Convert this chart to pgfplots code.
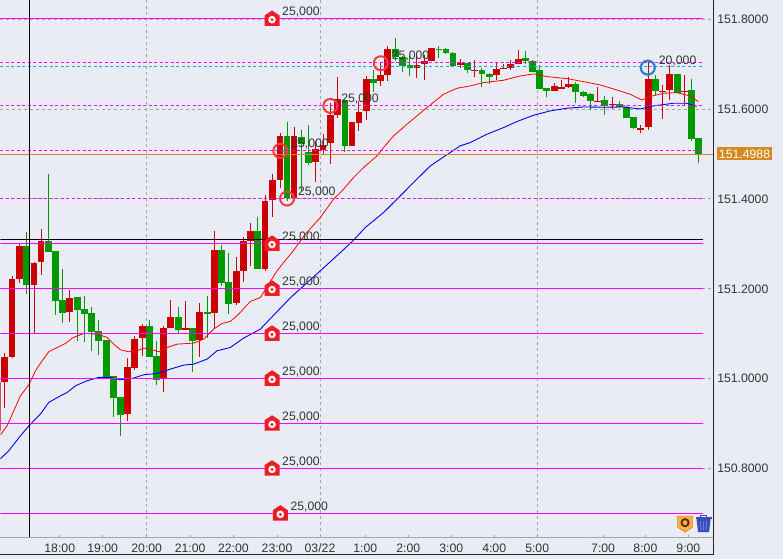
\documentclass[border=0pt]{standalone}
\usepackage{fontspec}
\setmainfont{Liberation Sans}
\usepackage{pgfplots}
\usepackage{pgfplotstable}
\pgfplotsset{compat=1.18}
\definecolor{bg}{HTML}{E9ECF4}
\definecolor{upc}{HTML}{CC0000}
\definecolor{dnc}{HTML}{009900}
\definecolor{gridc}{HTML}{A6A6A6}
\definecolor{mag}{HTML}{FF00FF}
\definecolor{fxred}{HTML}{EE1C25}
\definecolor{ringr}{HTML}{F53C46}
\definecolor{ringb}{HTML}{2F80D0}
\definecolor{tagc}{HTML}{D68A20}
\definecolor{txt}{HTML}{333333}
\definecolor{trash}{HTML}{3B4CB8}
\newcommand{\chartfont}{\fontsize{12.3}{14}\selectfont}
\pgfdeclareplotmark{fxhouse}{%
  \pgfsetfillcolor{fxred}%
  \pgfpathmoveto{\pgfpoint{-7.5bp}{-7bp}}%
  \pgfpathlineto{\pgfpoint{-7.5bp}{3.5bp}}%
  \pgfpathlineto{\pgfpoint{0bp}{8.5bp}}%
  \pgfpathlineto{\pgfpoint{7.5bp}{3.5bp}}%
  \pgfpathlineto{\pgfpoint{7.5bp}{-7bp}}%
  \pgfpathclose\pgfusepathqfill
  \pgfsetfillcolor{white}%
  \pgfpathcircle{\pgfpoint{0bp}{-0.7bp}}{3.8bp}\pgfusepathqfill
  \pgfsetfillcolor{fxred}%
  \pgfpathcircle{\pgfpoint{0bp}{-0.7bp}}{1.6bp}\pgfusepathqfill
}
% x (pixel position of the candle on the time axis), open, high, low, close
\pgfplotstableread{
x o h l c
-3 150.8844 150.9941 150.8844 150.9941
4.3 150.9941 151.0585 150.9363 151.0489
11.6 151.0489 151.2289 151.0452 151.2222
19.4 151.2222 151.3022 151.2133 151.2956
33.6 151.2111 151.26 151.1015 151.26
40.6 151.26 151.3333 151.2311 151.3074
69.3 151.1489 151.1978 151.1267 151.1822
127.3 150.9222 151.0467 150.9067 151.0267
134.3 151.0267 151.0956 151.02 151.0911
142.3 151.0911 151.1222 151.0511 151.1178
163.3 151.0022 151.1178 150.9711 151.1133
170.3 151.1133 151.1756 151.1133 151.1378
185.3 151.1111 151.1733 151.1089 151.1133
199.3 151.0867 151.1689 151.0489 151.1489
214.3 151.1467 151.3289 151.1133 151.2867
236.3 151.1689 151.2711 151.1644 151.24
243.3 151.24 151.3178 151.2178 151.3067
250.3 151.3067 151.3467 151.2511 151.3289
264.7 151.2452 151.4089 151.2415 151.3956
272.3 151.3978 151.457 151.3607 151.4422
279.7 151.4422 151.5474 151.4252 151.54
293.7 151.403 151.5607 151.3956 151.54
315.3 151.483 151.5289 151.4385 151.5126
322.7 151.5104 151.5459 151.4978 151.5215
330.3 151.523 151.6141 151.4785 151.5867
337.3 151.5867 151.6711 151.5793 151.6215
351.7 151.5178 151.5719 151.5178 151.5711
358.7 151.5711 151.6178 151.5511 151.5956
366.3 151.5956 151.6748 151.5763 151.6689
380.3 151.6622 151.7052 151.6511 151.6756
387.3 151.6756 151.74 151.6622 151.7333
416.7 151.6933 151.7215 151.6711 151.7
424 151.7 151.72 151.6644 151.7059
431.3 151.7067 151.7356 151.7067 151.7356
460 151.6993 151.7104 151.6904 151.7022
474.3 151.6852 151.7104 151.6733 151.6874
496.3 151.6756 151.703 151.6644 151.6904
503.7 151.6904 151.6993 151.6881 151.6926
510.7 151.6911 151.7104 151.6881 151.7007
518.3 151.7015 151.7311 151.6993 151.7133
554.3 151.6422 151.6585 151.64 151.6533
561.3 151.6444 151.6659 151.6444 151.6489
568.3 151.6489 151.6711 151.6474 151.6556
597.3 151.6178 151.6489 151.6178 151.62
612.3 151.6089 151.6267 151.6 151.6111
640.7 151.5563 151.5644 151.5467 151.5585
648.7 151.56 151.7067 151.5533 151.6667
662.7 151.6385 151.6548 151.5793 151.6407
669.7 151.6422 151.6993 151.62 151.6778
684.3 151.6378 151.6756 151.6089 151.6415
}\upT
\pgfplotstableread{
x o h l c
26.4 151.2956 151.3267 151.1889 151.2089
48.3 151.3081 151.4556 151.2822 151.2822
55.3 151.2844 151.2844 151.1422 151.1733
62.3 151.1756 151.2444 151.1244 151.1467
76.7 151.1822 151.1822 151.0844 151.1533
84.3 151.1556 151.1844 151.0822 151.1444
91.3 151.1467 151.16 151.0622 151.1044
98.3 151.1067 151.1311 151.0533 151.0844
105.7 151.0867 151.0867 151.003 151.0044
113.3 151.0067 151.0067 150.9156 150.9578
120.3 150.96 150.96 150.8733 150.92
149.3 151.1178 151.1311 151.0489 151.0489
156.3 151.0511 151.0844 150.9867 150.9978
178.3 151.1378 151.16 151.1022 151.1089
192.3 151.1133 151.1133 151.0156 151.0844
207.3 151.1489 151.1844 151.0911 151.1444
221.3 151.2867 151.2978 151.2067 151.2133
228.3 151.2156 151.28 151.1444 151.1667
257.3 151.3289 151.36 151.2444 151.2444
286.7 151.54 151.5733 151.3956 151.403
301.3 151.54 151.5533 151.4178 151.523
308.3 151.5052 151.5659 151.4756 151.4807
344.7 151.6215 151.6215 151.5052 151.5178
373.3 151.6689 151.6859 151.6378 151.66
395.3 151.7333 151.7585 151.7067 151.717
402.3 151.7178 151.7178 151.6822 151.697
409.7 151.6978 151.7178 151.6733 151.6911
438.7 151.7356 151.74 151.7141 151.7333
445.7 151.7348 151.7348 151.723 151.7244
452.7 151.7267 151.7267 151.6956 151.697
467.3 151.7015 151.7015 151.6822 151.6859
481.7 151.6881 151.6904 151.6489 151.6778
489 151.68 151.6807 151.6548 151.6733
525.3 151.7133 151.7289 151.7 151.7067
532.3 151.7089 151.7089 151.683 151.6844
539.3 151.6859 151.6978 151.6444 151.6444
546.7 151.6467 151.6474 151.6267 151.64
575.7 151.6556 151.66 151.6133 151.6378
583.3 151.64 151.64 151.6267 151.6311
590.3 151.6333 151.6356 151.5978 151.6178
604.7 151.62 151.6289 151.5867 151.6067
619.3 151.6111 151.6178 151.6022 151.6044
626.7 151.6044 151.6067 151.58 151.58
633.3 151.5822 151.5822 151.5556 151.5578
655.7 151.6667 151.6756 151.6311 151.64
677.3 151.6778 151.6778 151.6356 151.6356
691.3 151.6422 151.6667 151.5289 151.5333
698.3 151.5356 151.5356 151.48 151.4978
}\dnT
\pgfplotstableread{
x y
0 150.8756
6.7 150.8956
13.3 150.9289
20 150.9622
28.3 150.9867
35 151.0178
41.7 151.04
48.3 151.06
56.7 151.0696
65 151.0785
71.7 151.0904
83.3 151.1007
96.7 151.0993
106.7 151.0919
113.3 151.077
120 151.0644
128.3 151.06
136.7 151.0622
143.3 151.0681
150 151.0659
158.3 151.06
166.7 151.0696
176.7 151.077
193.3 151.0793
203.3 151.0881
213.3 151.1104
221.7 151.123
230 151.1274
238.3 151.1437
250 151.1719
260 151.1807
276.7 151.24
283.3 151.2585
291.7 151.2807
305 151.3215
320 151.3585
333.3 151.3993
341.7 151.4178
353.3 151.4474
363.3 151.4696
376.7 151.4956
383.3 151.5141
393.3 151.54
406.7 151.5659
426.7 151.603
443.3 151.6326
456.7 151.6459
470 151.6511
483.3 151.6585
503.3 151.6637
520 151.6733
533.3 151.6778
546.7 151.6719
566.7 151.6674
583.3 151.6607
600 151.6533
616.7 151.6422
630 151.6326
641.7 151.62
650 151.6274
663.3 151.6348
676.7 151.6363
690 151.6289
698.3 151.6163
}\maFast
\pgfplotstableread{
x y
0 150.8222
8.3 150.84
20 150.8733
30 150.8993
40 150.9215
48.3 150.9474
58.3 150.96
66.7 150.9696
75 150.9844
86.7 150.9956
98.3 151.003
110 151.003
120 150.9978
133.3 151.0015
143.3 151.0089
156.7 151.0119
170 151.0215
183.3 151.0304
193.3 151.0326
206.7 151.0437
216.7 151.0622
230 151.0696
243.3 151.0904
260 151.1104
290 151.18
320 151.24
338.3 151.277
353.3 151.3081
365 151.3363
383.3 151.3696
396.7 151.3993
413.3 151.4363
430 151.4733
445 151.4956
460 151.5178
470 151.5252
486.7 151.5437
503.3 151.5585
516.7 151.5719
533.3 151.5859
550 151.5956
566.7 151.6015
583.3 151.6044
603.3 151.6037
623.3 151.6044
640 151.6
653.3 151.6067
673.3 151.6126
686.7 151.6126
696.7 151.6059
}\maSlow
\begin{document}
\begin{tikzpicture}[x=1bp,y=1bp]
\fill[bg] (0,0) rectangle (783,559);
\begin{axis}[
  at={(0bp,22bp)}, anchor=south west,
  width=713bp, height=537bp, scale only axis,
  xmin=0, xmax=713, ymin=150.6478, ymax=151.8411,
  axis x line=bottom, axis y line=right,
  axis line style={-},
  x axis line style={gridc, line width=0.8bp},
  y axis line style={black!85, line width=1bp},
  xtick={59.3,102.3,146.3,189.7,233,276.7,319.7,365,408,451,494,537,603,645.3,688.3},
  xticklabels={18:00,19:00,20:00,21:00,22:00,23:00,03/22,1:00,2:00,3:00,4:00,5:00,7:00,8:00,9:00},
  extra x ticks={146.3,319.7,537},
  extra x tick labels={},
  extra x tick style={grid=major, tick style={draw=none}},
  ytick={150.8,151,151.2,151.4,151.6,151.8},
  ymajorgrids=true,
  grid style={gridc, line width=0.8bp, dash pattern=on 3bp off 3bp},
  major tick length=2.5bp,
  xtick style={gridc, line width=0.8bp},
  ytick style={draw=none},
  tick align=inside,
  scaled y ticks=false,
  yticklabel style={/pgf/number format/fixed, /pgf/number format/fixed zerofill, /pgf/number format/precision=4, /pgf/number format/1000 sep={}, /pgf/number format/assume math mode=true},
  ticklabel style={font=\chartfont, text=txt},
  yticklabel style={anchor=west, xshift=4bp, inner xsep=0pt},
  xticklabel style={anchor=center, yshift=-11bp},
  clip=true,
]
% candles
\addplot[draw=none, mark=none, forget plot, error bars/.cd, y dir=both, y explicit, error mark=none, error bar style={line width=1bp, color=upc}]
  table[x=x, y expr=(\thisrow{h}+\thisrow{l})/2, y error expr=(\thisrow{h}-\thisrow{l})/2] {\upT};
\addplot[draw=none, mark=none, forget plot, error bars/.cd, y dir=both, y explicit, error mark=none, error bar style={line width=1bp, color=dnc}]
  table[x=x, y expr=(\thisrow{h}+\thisrow{l})/2, y error expr=(\thisrow{h}-\thisrow{l})/2] {\dnT};
\addplot[draw=none, mark=none, forget plot, error bars/.cd, y dir=both, y explicit, error mark=none, error bar style={line width=6.8bp, color=upc}]
  table[x=x, y expr=(\thisrow{o}+\thisrow{c})/2, y error expr=(\thisrow{c}-\thisrow{o})/2] {\upT};
\addplot[draw=none, mark=none, forget plot, error bars/.cd, y dir=both, y explicit, error mark=none, error bar style={line width=6.8bp, color=dnc}]
  table[x=x, y expr=(\thisrow{o}+\thisrow{c})/2, y error expr=(\thisrow{o}-\thisrow{c})/2] {\dnT};
% moving averages
\addplot[red, line width=0.8bp, mark=none] table[x=x,y=y] {\maFast};
\addplot[blue, line width=0.9bp, mark=none] table[x=x,y=y] {\maSlow};
% order levels: solid
\addplot[mag, line width=1bp] coordinates {(0,151.8) (703,151.8)};
\addplot[mag, line width=1bp] coordinates {(0,151.3) (703,151.3)};
\addplot[mag, line width=1bp] coordinates {(0,151.2) (703,151.2)};
\addplot[mag, line width=1bp] coordinates {(0,151.1) (703,151.1)};
\addplot[mag, line width=1bp] coordinates {(0,151.0) (703,151.0)};
\addplot[mag, line width=1bp] coordinates {(0,150.9) (703,150.9)};
\addplot[mag, line width=1bp] coordinates {(0,150.8) (703,150.8)};
\addplot[mag, line width=1bp] coordinates {(0,150.7) (703,150.7)};
% order levels: dashed
\addplot[mag, line width=1bp, dash pattern=on 3bp off 2.5bp] coordinates {(0,151.7022) (703,151.7022)};
\addplot[mag, line width=1bp, dash pattern=on 3bp off 2.5bp] coordinates {(0,151.6067) (703,151.6067)};
\addplot[mag, line width=1bp, dash pattern=on 3bp off 2.5bp] coordinates {(0,151.5067) (703,151.5067)};
\addplot[mag, line width=1bp, dash pattern=on 3bp off 2.5bp] coordinates {(0,151.4) (703,151.4)};
\addplot[cyan, line width=1bp, dash pattern=on 3bp off 2.5bp] coordinates {(0,151.6933) (703,151.6933)};
% current rate
\addplot[tagc!85!brown, line width=1bp] coordinates {(0,151.4988) (713,151.4988)};
% crosshair
\addplot[black, line width=1bp] coordinates {(0,151.3089) (703,151.3089)};
\addplot[black, line width=1bp] coordinates {(29.5,150.6478) (29.5,151.8411)};
% order markers
\addplot[only marks, mark=fxhouse, nodes near coords={25,000},
  every node near coord/.append style={anchor=west, inner sep=0pt, xshift=10bp, yshift=7bp, font=\chartfont, text=txt}]
  coordinates {(271.7,151.8) (271.7,151.3) (271.7,151.2) (271.7,151.1) (271.7,151.0) (271.7,150.9) (271.7,150.8) (280,150.7)};
% filled-order circles
\addplot[only marks, mark=o, mark size=7bp, mark options={draw=ringr, line width=2bp}, nodes near coords={25,000},
  every node near coord/.append style={anchor=west, inner sep=0pt, xshift=10bp, yshift=7bp, font=\chartfont, text=txt}]
  coordinates {(280,151.5067) (286.7,151.4007) (330,151.6067) (380.5,151.7016)};
\addplot[only marks, mark=o, mark size=7bp, mark options={draw=ringb, line width=2.2bp}, nodes near coords={20,000},
  every node near coord/.append style={anchor=west, inner sep=0pt, xshift=10bp, yshift=7bp, font=\chartfont, text=txt}]
  coordinates {(647.7,151.6918)};
\end{axis}
% frame
\draw[black!85, line width=1bp] (713,559) -- (713,5) -- (0,5);
% current rate tag
\node[fill=tagc, text=white, font=\chartfont, inner sep=0pt, minimum width=55bp, minimum height=13bp, anchor=center] at (744.5,405.5) {151.4988};
% order icon
\fill[draw=orange!90!red, fill={rgb,255:red,255;green,176;blue,77}, line width=.6bp] (677.5,43) -- (692.5,43) -- (692.5,32) -- (685,27) -- (677.5,32) -- cycle;
\draw[draw={rgb,255:red,90;green,48;blue,0}, line width=1.9bp] (685,36.5) circle (3.6);
% trash icon
\fill[trash] (696.5,40) -- (710.5,40) -- (709,27) -- (698,27) -- cycle;
\fill[trash] (695.5,40.5) rectangle (711.5,42.5);
\draw[trash, line width=.8bp] (700.5,42.5) -- (700.5,44) -- (706.5,44) -- (706.5,42.5);
\draw[white!55!blue, line width=.6bp] (700.5,38) -- (701,29) (703.5,38) -- (703.5,29) (706.5,38) -- (706,29);
\end{tikzpicture}
\end{document}
